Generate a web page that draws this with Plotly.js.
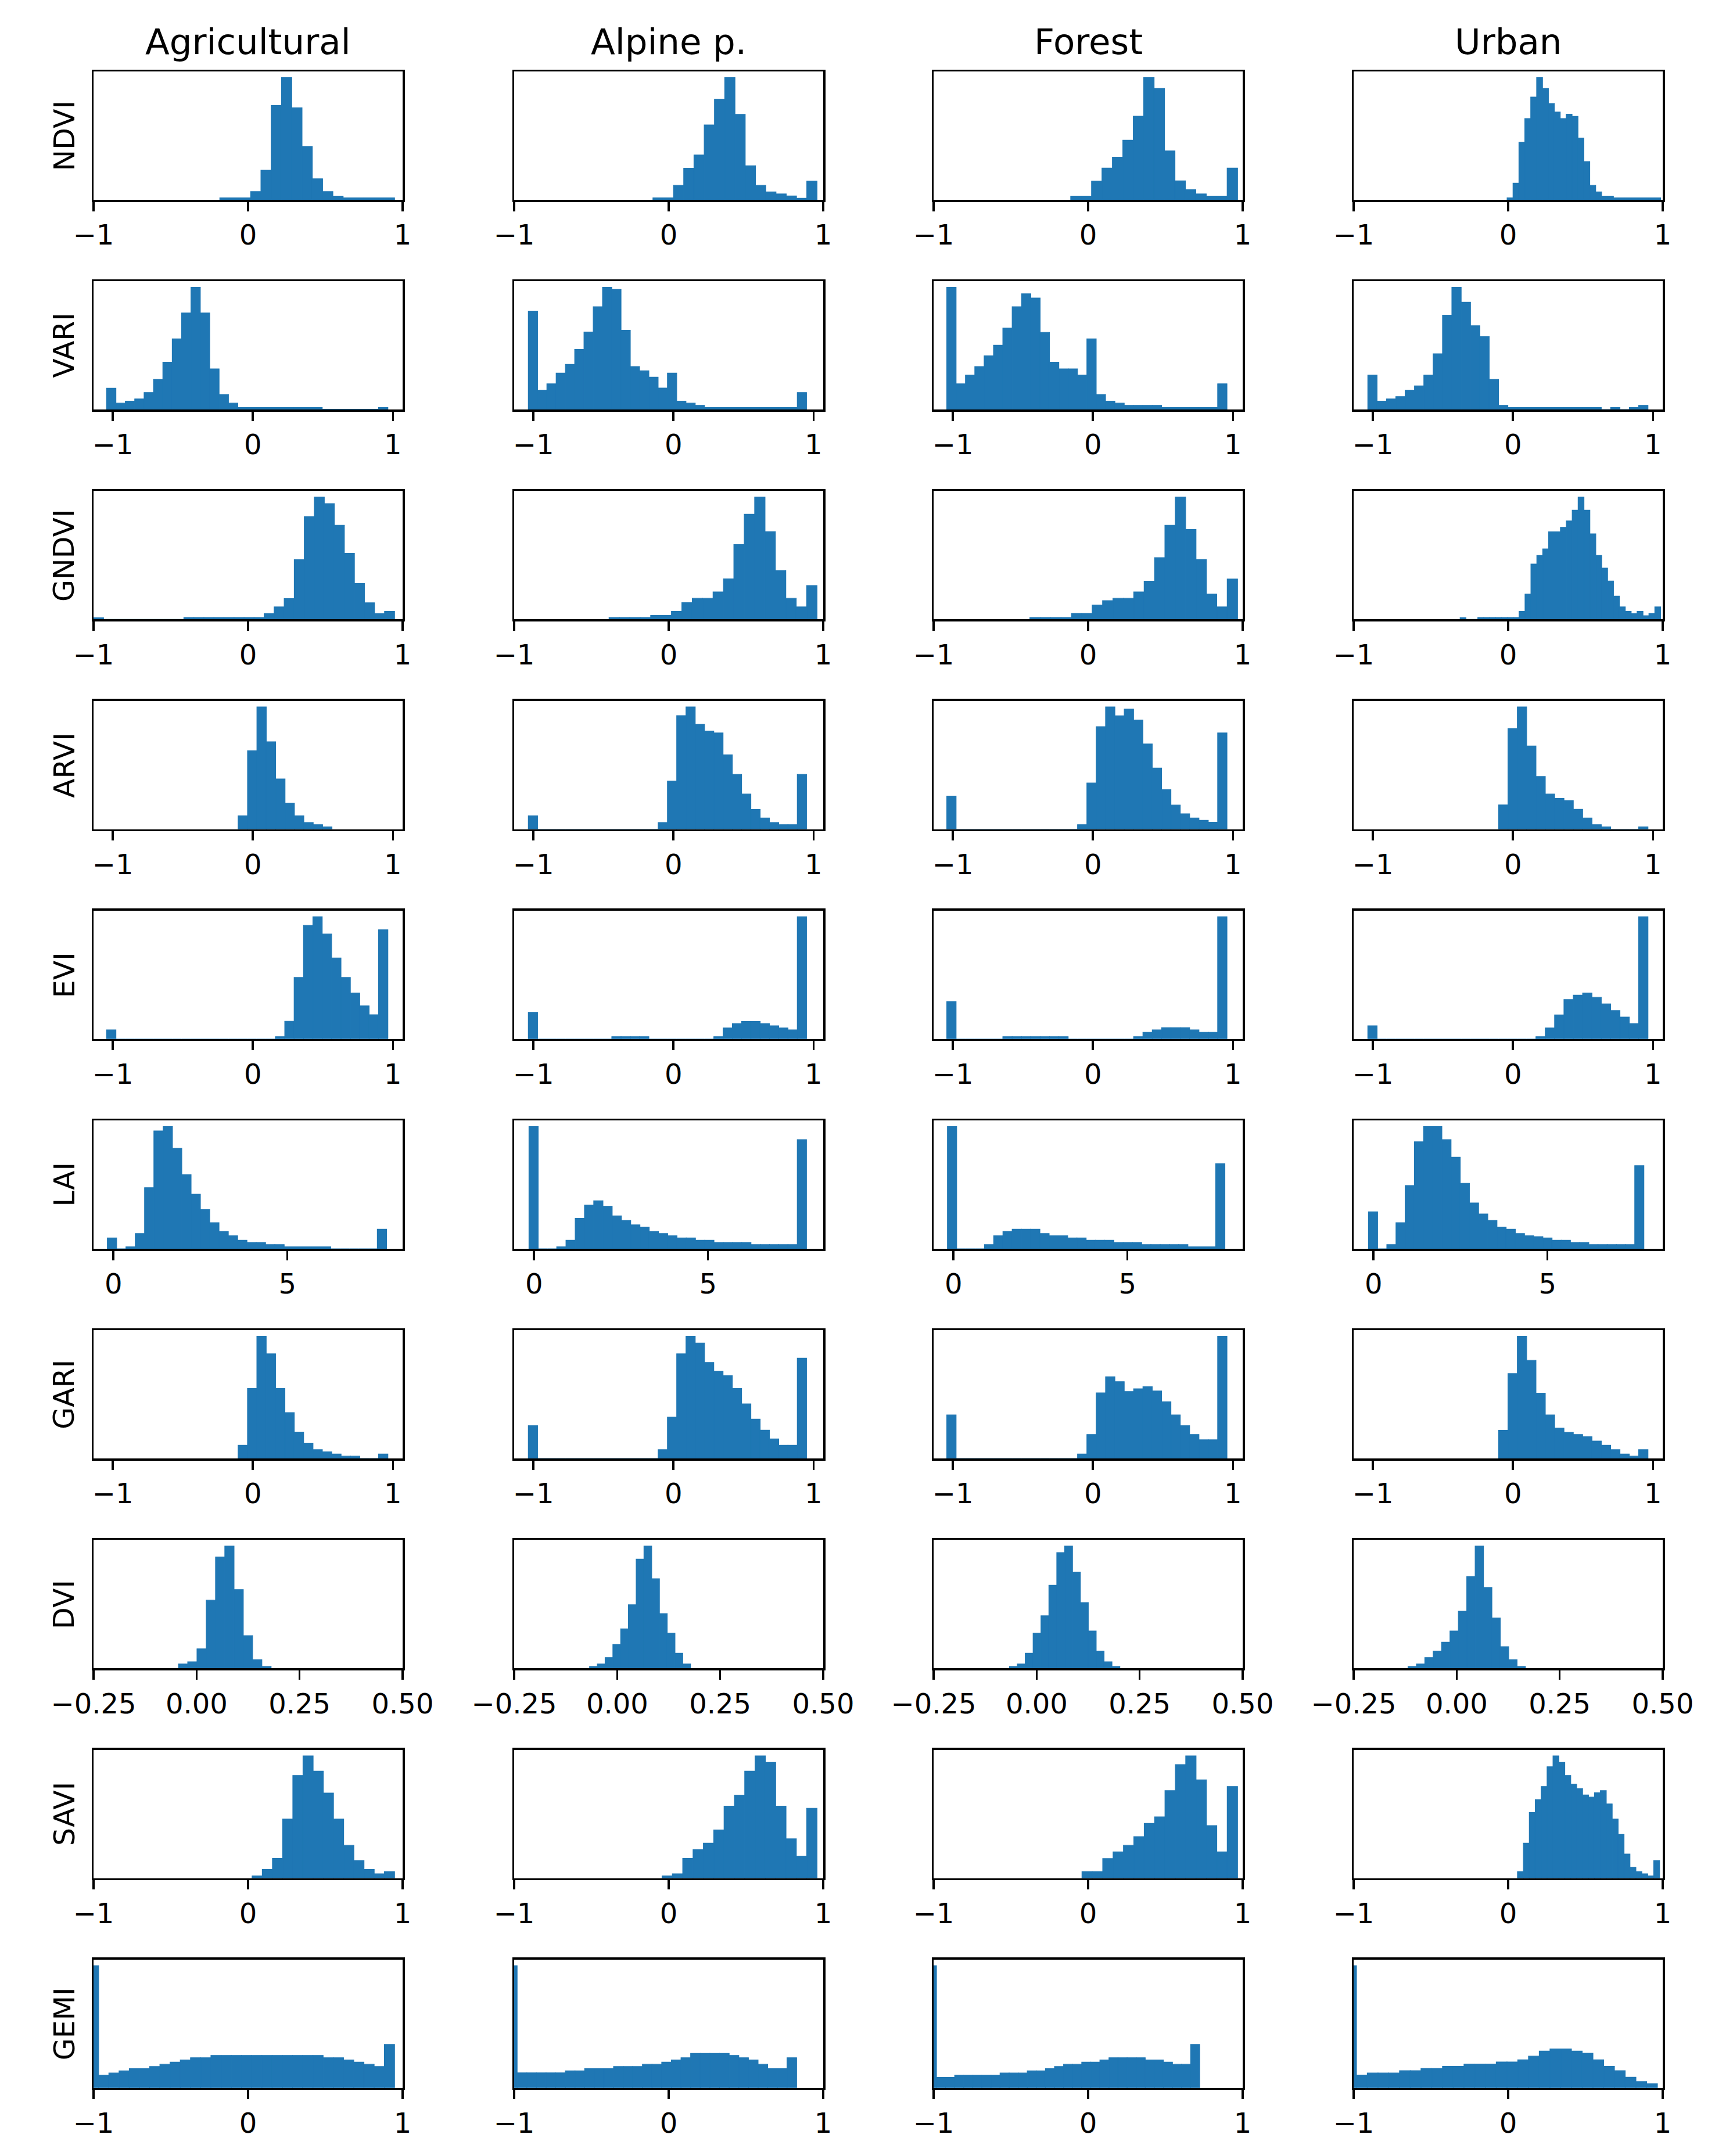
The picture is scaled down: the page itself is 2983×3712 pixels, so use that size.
<!DOCTYPE html>
<html>
<head>
<meta charset="utf-8">
<script src="https://cdn.plot.ly/plotly-3.0.1.min.js"></script>
<style>body{margin:0;background:#fff}</style>
</head>
<body>
<div id="chart" style="width:2983px;height:3712px"></div>
<script>
// land cover columns and vegetation index rows
const landCovers = ['Agricultural', 'Alpine p.', 'Forest', 'Urban'];
const indexNames = ['NDVI', 'VARI', 'GNDVI', 'ARVI', 'EVI', 'LAI', 'GARI', 'DVI', 'SAVI', 'GEMI'];

// x axis range and ticks for each row
const rowRanges = [[-1, 1], [-1.137, 1.069], [-1, 1], [-1.137, 1.069], [-1.137, 1.069],
                   [-0.57, 8.31], [-1.137, 1.069], [-0.25, 0.5], [-1, 1], [-1, 1]];
const rowTickVals = [[-1, 0, 1], [-1, 0, 1], [-1, 0, 1], [-1, 0, 1], [-1, 0, 1],
                     [0, 5], [-1, 0, 1], [-0.25, 0, 0.25, 0.5], [-1, 0, 1], [-1, 0, 1]];
const rowTickText = [['−1', '0', '1'], ['−1', '0', '1'], ['−1', '0', '1'], ['−1', '0', '1'], ['−1', '0', '1'],
                     ['0', '5'], ['−1', '0', '1'], ['−0.25', '0.00', '0.25', '0.50'], ['−1', '0', '1'], ['−1', '0', '1']];

// histogram bin range [first edge, last edge] and counts, one entry per land cover
const ndviEdges = [[-0.183, 0.948], [-0.102, 0.96], [-0.113, 0.967], [-0.007, 0.987]];
const ndviCounts = [
	[10, 10, 10, 42, 152, 484, 627, 472, 274, 108, 42, 19, 10, 10, 10, 10, 10],
	[10, 10, 74, 162, 230, 384, 516, 627, 438, 175, 74, 41, 30, 20, 8, 96],
	[19, 19, 96, 163, 219, 306, 429, 627, 571, 251, 97, 52, 30, 19, 19, 163],
	[10, 85, 295, 417, 527, 627, 571, 494, 450, 417, 439, 428, 317, 196, 74, 41, 19, 19, 10, 10, 10, 10, 10, 10, 10, 10]
];

const variEdges = [[-1.044, 0.964], [-1.036, 0.95], [-1.043, 0.957], [-1.036, 0.964]];
const variCounts = [
	[110, 33, 44, 55, 88, 155, 244, 365, 498, 630, 498, 210, 78, 33, 11, 11, 11, 11, 11, 11, 11, 11, 11, 2, 2, 2, 2, 2, 2, 11],
	[508, 100, 133, 188, 233, 310, 400, 530, 630, 619, 409, 222, 200, 167, 111, 188, 44, 33, 22, 11, 11, 11, 11, 11, 11, 11, 11, 11, 11, 88],
	[630, 133, 178, 222, 277, 332, 420, 530, 597, 575, 398, 244, 210, 210, 178, 365, 78, 44, 33, 22, 22, 22, 22, 11, 11, 11, 11, 11, 11, 133],
	[178, 44, 55, 67, 100, 122, 178, 288, 487, 630, 553, 432, 376, 155, 22, 11, 11, 11, 11, 11, 11, 11, 11, 11, 11, 0, 11, 0, 11, 22]
];

const gndviEdges = [[-1, 0.948], [-0.386, 0.96], [-0.377, 0.967], [-0.311, 0.987]];
const gndviCounts = [
	[8, 0, 0, 0, 0, 0, 0, 0, 0, 10, 10, 10, 10, 10, 10, 10, 10, 30, 64, 107, 306, 527, 627, 594, 483, 339, 184, 85, 30, 41],
	[10, 10, 10, 10, 20, 20, 41, 86, 108, 108, 141, 208, 384, 539, 627, 450, 251, 108, 64, 174],
	[10, 10, 10, 10, 31, 31, 74, 96, 108, 108, 141, 196, 317, 483, 627, 461, 307, 130, 64, 207],
	[9, 0, 0, 10, 10, 10, 10, 10, 10, 10, 41, 130, 284, 328, 361, 449, 449, 472, 505, 560, 627, 560, 439, 328, 263, 197, 119, 64, 41, 30, 41, 19, 31, 64]
];

const arviEdges = [[-0.105, 0.565], [-1.036, 0.95], [-1.043, 0.957], [-0.102, 0.964]];
const arviCounts = [
	[68, 398, 620, 443, 255, 132, 68, 34, 23, 12],
	[68, 0, 0, 0, 0, 0, 0, 0, 0, 0, 0, 0, 0, 0, 34, 244, 576, 620, 532, 498, 488, 377, 278, 178, 100, 57, 34, 23, 23, 278],
	[168, 0, 0, 0, 0, 0, 0, 0, 0, 0, 0, 0, 0, 0, 23, 234, 520, 620, 575, 609, 554, 432, 310, 200, 122, 78, 57, 45, 35, 488],
	[123, 510, 620, 422, 267, 178, 156, 145, 101, 57, 23, 12, 0, 0, 0, 12]
];

const eviEdges = [[-1.044, 0.964], [-1.036, 0.95], [-1.043, 0.957], [-1.036, 0.964]];
const eviCounts = [
	[46, 0, 0, 0, 0, 0, 0, 0, 0, 0, 0, 0, 0, 0, 0, 0, 0, 0, 12, 90, 312, 576, 620, 532, 411, 312, 233, 168, 123, 554],
	[135, 0, 0, 0, 0, 0, 0, 0, 0, 12, 12, 12, 12, 0, 0, 0, 0, 0, 0, 0, 12, 56, 78, 89, 89, 78, 67, 56, 46, 620],
	[189, 0, 0, 0, 0, 0, 12, 12, 12, 12, 12, 12, 12, 0, 0, 0, 0, 0, 0, 0, 12, 34, 46, 57, 57, 57, 46, 34, 34, 620],
	[67, 0, 0, 0, 0, 0, 0, 0, 0, 0, 0, 0, 0, 0, 0, 0, 0, 0, 12, 56, 122, 200, 222, 233, 211, 178, 144, 111, 78, 620]
];

const laiEdges = [[-0.174, 7.85], [-0.145, 7.83], [-0.173, 7.8], [-0.145, 7.77]];
const laiCounts = [
	[55, 0, 10, 77, 309, 596, 618, 508, 375, 276, 198, 132, 88, 66, 43, 32, 32, 21, 21, 10, 10, 10, 10, 10, 0, 0, 0, 0, 0, 99],
	[618, 0, 0, 10, 43, 154, 221, 243, 215, 166, 143, 121, 110, 88, 77, 66, 55, 55, 43, 43, 32, 32, 32, 32, 21, 21, 21, 21, 21, 552],
	[618, 0, 0, 0, 21, 66, 88, 99, 99, 99, 77, 66, 66, 55, 55, 43, 43, 43, 32, 32, 32, 21, 21, 21, 21, 21, 10, 10, 10, 430],
	[187, 0, 21, 132, 320, 541, 618, 618, 552, 463, 331, 232, 176, 143, 110, 99, 77, 66, 61, 55, 43, 43, 32, 32, 21, 21, 21, 21, 21, 420]
];

const gariEdges = [[-0.105, 0.964], [-1.036, 0.95], [-1.043, 0.957], [-0.102, 0.964]];
const gariCounts = [
	[67, 355, 620, 531, 355, 233, 134, 78, 45, 34, 23, 12, 12, 0, 0, 23],
	[167, 0, 0, 0, 0, 0, 0, 0, 0, 0, 0, 0, 0, 0, 45, 210, 531, 620, 586, 487, 443, 421, 355, 277, 200, 144, 100, 67, 67, 509],
	[221, 0, 0, 0, 0, 0, 0, 0, 0, 0, 0, 0, 0, 0, 23, 122, 333, 415, 390, 340, 354, 365, 343, 288, 221, 167, 122, 95, 95, 620],
	[143, 431, 620, 498, 332, 221, 155, 133, 122, 111, 89, 67, 45, 23, 12, 45]
];

const dviEdges = [[-0.044, 0.181], [-0.067, 0.178], [-0.066, 0.202], [-0.118, 0.167]];
const dviCounts = [
	[22, 33, 99, 346, 566, 621, 400, 166, 44, 10],
	[10, 22, 55, 121, 201, 323, 555, 621, 455, 278, 179, 77, 22],
	[10, 22, 77, 179, 267, 422, 588, 621, 489, 334, 190, 88, 33, 10],
	[10, 22, 55, 88, 133, 190, 290, 466, 621, 411, 256, 110, 44, 10]
];

const saviEdges = [[0.026, 0.948], [-0.043, 0.96], [-0.04, 0.967], [0.06, 0.98]];
const saviCounts = [
	[11, 44, 100, 299, 520, 619, 542, 431, 299, 166, 89, 44, 22, 33],
	[11, 22, 100, 144, 177, 244, 365, 420, 542, 619, 586, 365, 199, 111, 354],
	[33, 33, 99, 133, 166, 210, 277, 310, 443, 575, 619, 498, 266, 133, 464],
	[33, 177, 332, 398, 464, 564, 619, 586, 520, 476, 454, 421, 410, 432, 443, 376, 299, 221, 122, 55, 33, 22, 11, 89]
];

const gemiEdges = [[-1.033, 0.948], [-1.043, 0.828], [-1.04, 0.722], [-1.051, 0.966]];
const gemiCounts = [
	[616, 64, 75, 86, 97, 97, 108, 119, 130, 141, 152, 152, 164, 164, 164, 164, 164, 164, 164, 164, 164, 164, 164, 152, 152, 141, 130, 119, 108, 219],
	[616, 76, 76, 76, 76, 76, 86, 86, 97, 97, 97, 108, 108, 108, 119, 119, 130, 141, 152, 174, 174, 174, 174, 164, 152, 141, 119, 97, 97, 152],
	[616, 53, 53, 64, 64, 64, 64, 64, 75, 75, 75, 86, 86, 97, 108, 119, 119, 130, 130, 141, 152, 152, 152, 152, 141, 141, 130, 119, 119, 219],
	[617, 65, 75, 75, 75, 87, 87, 98, 98, 109, 109, 120, 120, 120, 131, 131, 142, 160, 186, 197, 197, 186, 175, 142, 109, 87, 54, 32, 21]
];

const allEdges = [ndviEdges, variEdges, gndviEdges, arviEdges, eviEdges, laiEdges, gariEdges, dviEdges, saviEdges, gemiEdges];
const allCounts = [ndviCounts, variCounts, gndviCounts, arviCounts, eviCounts, laiCounts, gariCounts, dviCounts, saviCounts, gemiCounts];

// page geometry (pixels)
const W = 2983, H = 3712;
const colLeft = [161, 885, 1607, 2330];
const colWidth = 532;
const rowTop0 = 123, rowStep = 361.2, rowHeight = 221;
const FONT = 'DejaVu Sans, Liberation Sans, sans-serif';
const BLUE = '#1f77b4';

let traces = [];
let layout = {
	width: W,
	height: H,
	margin: {l: 0, r: 0, t: 0, b: 0},
	paper_bgcolor: '#fff',
	plot_bgcolor: '#fff',
	showlegend: false,
	font: {family: FONT, color: '#000'},
	annotations: []
};

function axName(k) { return k === 1 ? '' : String(k); }

for (let r = 0; r < indexNames.length; r++)
{
	let top = rowTop0 + r * rowStep;
	let yDom = [1 - (top + rowHeight) / H, 1 - top / H];
	for (let c = 0; c < landCovers.length; c++)
	{
		let k = r * landCovers.length + c + 1;
		let counts = allCounts[r][c];
		let edges = allEdges[r][c];
		let w = (edges[1] - edges[0]) / counts.length;
		let xs = counts.map((_, i) => edges[0] + w * (i + 0.5));

		// thin outline in the bar colour closes the seams between adjacent bins
		traces.push({
			type: 'bar',
			x: xs,
			y: counts,
			width: w,
			marker: {color: BLUE, line: {color: BLUE, width: 1.2}},
			xaxis: 'x' + axName(k),
			yaxis: 'y' + axName(k),
			hoverinfo: 'skip'
		});

		layout['xaxis' + axName(k)] = {
			domain: [colLeft[c] / W, (colLeft[c] + colWidth) / W],
			anchor: 'y' + axName(k),
			range: rowRanges[r],
			tickmode: 'array',
			tickvals: rowTickVals[r],
			ticktext: rowTickText[r],
			ticks: 'outside',
			ticklen: 16,
			tickwidth: 3.5,
			tickcolor: '#000',
			tickfont: {size: 48, color: '#000', family: FONT},
			showline: true,
			mirror: true,
			linecolor: '#000',
			linewidth: 3.5,
			showgrid: false,
			zeroline: false,
			fixedrange: true
		};
		layout['yaxis' + axName(k)] = {
			domain: yDom,
			anchor: 'x' + axName(k),
			range: [0, Math.max(...counts) * 1.05],
			showticklabels: false,
			ticks: '',
			showline: true,
			mirror: true,
			linecolor: '#000',
			linewidth: 3.5,
			showgrid: false,
			zeroline: false,
			fixedrange: true
		};
	}

	// row label
	layout.annotations.push({
		text: indexNames[r],
		xref: 'paper', yref: 'paper',
		x: 111 / W, y: (yDom[0] + yDom[1]) / 2,
		xanchor: 'center', yanchor: 'middle',
		textangle: -90,
		showarrow: false,
		font: {size: 49, color: '#000', family: FONT}
	});
}

// column titles
for (let c = 0; c < landCovers.length; c++)
{
	layout.annotations.push({
		text: landCovers[c],
		xref: 'paper', yref: 'paper',
		x: (colLeft[c] + colWidth / 2) / W, y: 1 - 71 / H,
		xanchor: 'center', yanchor: 'middle',
		showarrow: false,
		font: {size: 61, color: '#000', family: FONT}
	});
}

Plotly.newPlot(document.getElementById('chart'), traces, layout, {staticPlot: true});
</script>
</body>
</html>
